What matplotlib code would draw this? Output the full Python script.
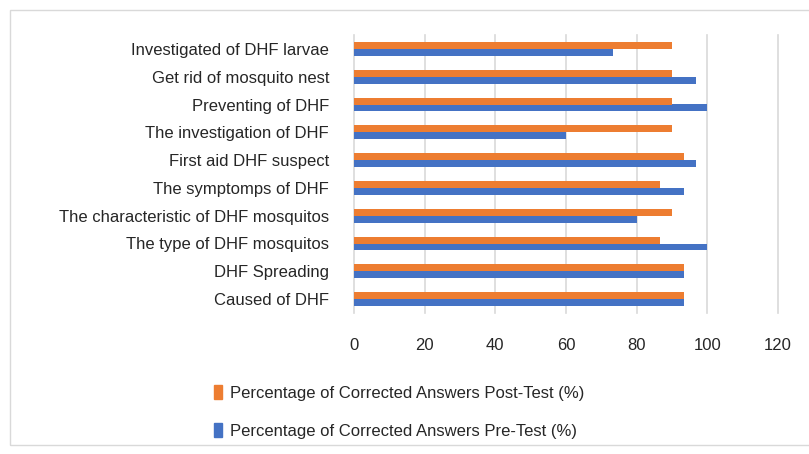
import matplotlib
matplotlib.use("Agg")
import matplotlib.pyplot as plt
import numpy as np
from matplotlib.patches import Rectangle, Patch

categories = ["Caused of DHF", "DHF Spreading", "The type of DHF mosquitos",
              "The characteristic of DHF mosquitos", "The symptomps of DHF",
              "First aid DHF suspect", "The investigation of DHF",
              "Preventing of DHF", "Get rid of mosquito nest",
              "Investigated of DHF larvae"]
post_test = [93.33, 93.33, 86.67, 90, 86.67, 93.33, 90, 90, 90, 90]
pre_test = [93.33, 93.33, 100, 80, 93.33, 96.67, 60, 100, 96.67, 73.33]
xticks = [0, 20, 40, 60, 80, 100, 120]
label_post = "Percentage of Corrected Answers Post-Test (%)"
label_pre = "Percentage of Corrected Answers Pre-Test (%)"

plt.rcParams['font.family'] = ['Liberation Sans', 'DejaVu Sans']

fig = plt.figure(figsize=(8.09, 4.54), dpi=100)
fig.patches.append(Rectangle((10/809, 1-445/454), 1.0, (445-10)/454,
                             transform=fig.transFigure, fill=False,
                             edgecolor='#d9d9d9', linewidth=1.0))
ax = fig.add_axes([354/809, 1-313/454, (778-354)/809, (313-35)/454])

y = np.arange(len(categories))
h = 0.25
orange = '#ED7D31'
blue = '#4472C4'
ax.barh(y - h/2, pre_test, height=h, color=blue, label=label_pre)
ax.barh(y + h/2, post_test, height=h, color=orange, label=label_post)

ax.set_xlim(0, 120)
ax.set_ylim(-0.5, len(categories) - 0.5)
ax.set_xticks(xticks)
ax.set_yticks(y)
ax.set_yticklabels(categories)
ax.tick_params(axis='both', length=0, labelsize=12, colors='#262626')
ax.tick_params(axis='x', pad=18)
ax.tick_params(axis='y', pad=18)
ax.grid(axis='x', color='#d9d9d9', linewidth=1.2)
for gl in ax.get_xgridlines():
    gl.set_clip_on(False)
ax.set_axisbelow(True)
for s in ax.spines.values():
    s.set_visible(False)

handles = [Patch(color=orange, label=label_post), Patch(color=blue, label=label_pre)]
fig.legend(handles=handles, loc='upper left', bbox_to_anchor=(199/809, 1-370/454),
           frameon=False, fontsize=12, handlelength=0.5, handleheight=0.9,
           handletextpad=0.45, labelspacing=1.35, labelcolor='#262626')

fig.savefig("out.png", dpi=100)
